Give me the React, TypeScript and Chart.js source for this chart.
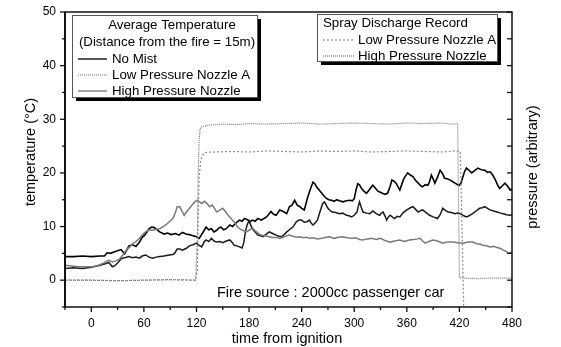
import React, { useEffect, useRef } from 'react';
import { Chart, registerables } from 'chart.js';
Chart.register(...registerables);

const FONT = '"Liberation Sans", Arial, Helvetica, sans-serif';

const xTickValues = [0, 60, 120, 180, 240, 300, 360, 420, 480];
const yTickValues = [0, 10, 20, 30, 40, 50];

// Average temperature: No Mist
const noMistT = [-30,-20,-10,0,10,15,18,22,28,34,38,43,47,51,55,58,61,66,69,72,78,83,87,91,96,100,104,108,112,116,120,123,127,131,134,137,140,143,146,148,151,154,158,161,163,166,169,172,175,178,181,184,187,190,194,197,200,203,205,208,211,213,215,219,223,226,229,232,235,238,240,243,247,250,253,255,257,260,263,266,268,271,274,277,280,283,287,291,295,298,300,302,304,306,308,311,314,317,321,324,327,331,335,338,341,343,346,348,352,356,358,361,364,367,370,373,376,378,381,384,386,388,390,392,395,398,401,403,406,409,412,415,418,420,422,424,426,428,431,434,437,441,445,449,452,455,458,461,464,466,469,472,475,478,480];
const noMistV = [4.4,4.4,4.5,4.4,4.5,4.5,5.1,5.0,5.4,5.7,4.9,6.4,6.6,6.3,7.1,8.0,8.4,9.6,9.9,9.8,9.0,8.6,8.8,8.5,8.7,8.4,8.9,8.6,8.5,8.3,8.1,7.8,8.8,9.9,9.4,9.6,9.0,9.3,9.8,9.9,9.4,9.6,10.3,10.0,10.3,10.8,11.2,11.0,11.5,11.3,10.9,11.2,11.0,11.5,11.2,11.5,11.8,12.4,12.8,12.3,12.1,12.6,13.1,12.8,12.4,13.7,14.0,14.9,14.0,13.7,13.4,13.1,15.5,17.0,18.3,18.0,17.4,16.8,16.2,15.6,15.3,15.0,14.9,14.7,15.0,14.8,14.6,14.8,14.9,14.8,15.2,16.8,18.0,17.8,17.2,16.6,16.2,16.8,17.7,17.2,16.6,16.3,16.0,16.2,17.5,18.7,18.4,18.0,16.8,18.7,19.3,20.0,19.6,19.3,18.6,18.1,17.6,17.4,17.8,17.7,18.4,19.6,18.9,18.1,19.2,20.5,19.8,19.0,18.9,18.7,18.4,18.1,17.8,17.7,18.2,19.3,20.3,20.9,20.5,20.0,20.4,20.9,20.6,20.5,20.1,20.2,19.6,18.7,17.6,17.1,17.6,18.1,17.5,16.8,17.0];

// Average temperature: Low Pressure Nozzle A
const lowAT = [-30,-20,-10,0,5,10,15,20,24,27,31,34,38,43,47,51,55,58,62,66,70,74,78,83,89,93,95,98,101,104,108,112,116,120,123,126,129,131,134,137,140,143,147,150,154,158,161,163,166,169,172,174,176,178,180,182,184,186,188,190,193,196,199,203,207,211,214,217,220,223,226,230,234,237,240,243,246,249,251,253,255,258,261,264,266,268,270,273,275,279,283,287,291,294,297,300,303,305,306,308,310,314,318,321,323,326,329,331,333,335,337,339,341,344,346,349,352,356,360,364,367,370,373,376,378,382,386,390,395,398,401,404,407,411,415,418,421,425,428,431,435,439,443,446,449,452,455,459,463,467,470,474,478,480];
const lowAV = [2.2,2.3,2.2,2.4,2.6,2.8,3.0,3.3,2.5,2.7,3.4,4.0,4.2,4.4,4.2,4.3,4.1,4.5,4.7,4.3,4.1,4.3,4.4,4.5,4.7,4.8,5.0,5.8,5.8,5.6,5.9,6.4,6.6,6.9,6.5,6.2,7.2,7.5,7.2,7.8,7.3,7.1,7.2,7.0,7.3,7.5,7.0,6.5,6.4,6.2,6.0,7.0,9.2,10.4,11.1,10.2,9.6,9.1,8.8,8.4,8.3,8.1,8.5,9.0,8.7,8.4,8.2,8.1,8.5,9.0,9.4,9.9,10.9,11.2,11.2,10.8,10.9,11.2,10.6,10.3,10.6,11.2,12.8,14.3,14.6,14.0,13.4,12.9,12.7,12.6,12.4,12.5,12.1,12.0,11.8,12.1,12.7,14.0,14.6,13.6,12.7,12.5,12.4,12.9,12.7,12.3,12.1,12.5,12.7,12.0,11.2,11.8,12.1,11.7,11.5,11.9,11.8,12.6,13.1,13.5,13.7,13.2,12.7,13.0,13.1,12.6,12.1,11.8,11.5,12.2,13.4,13.0,12.7,12.6,12.4,12.5,12.4,12.0,11.8,12.0,12.4,12.9,13.4,13.5,13.7,13.4,13.1,12.9,12.7,12.5,12.4,12.2,12.1,12.2];

// Average temperature: High Pressure Nozzle
const highT = [-30,-20,-14,-5,1,7,13,17,20,24,28,32,36,40,44,47,51,55,58,62,66,70,74,78,82,85,89,93,96,98,101,104,106,109,112,115,118,121,124,126,129,132,135,138,141,143,147,150,153,156,159,161,164,167,170,174,177,181,184,187,191,194,198,203,208,211,215,219,223,226,230,234,238,242,246,249,253,258,263,268,272,277,282,287,292,297,302,306,310,315,320,325,330,335,341,346,352,357,363,368,372,375,378,381,385,390,395,401,406,413,418,424,430,435,440,444,447,451,455,459,463,467,470,473,476,478,480];
const highV = [2.8,2.6,2.5,2.5,2.5,2.7,3.1,3.5,3.7,3.4,3.6,3.9,4.7,5.6,6.2,6.8,7.2,7.8,8.4,9.0,9.4,9.3,9.5,9.6,10.0,10.3,10.9,11.5,12.6,13.7,13.7,12.7,12.1,12.8,13.4,14.0,14.6,14.9,14.5,14.3,14.7,14.3,13.7,14.0,13.3,12.7,13.1,13.4,12.8,12.1,11.6,11.2,10.6,9.9,9.5,9.2,9.0,9.4,9.7,9.2,8.7,8.4,8.3,8.1,7.9,8.0,7.8,8.0,8.3,8.4,8.2,8.0,8.1,7.9,8.0,7.8,7.9,7.7,7.8,8.0,8.1,7.8,8.0,8.1,7.9,7.8,7.9,7.6,7.5,7.7,7.8,7.6,7.8,7.4,7.1,7.3,7.5,7.2,7.5,7.6,7.7,7.8,7.3,6.9,7.2,7.5,7.3,6.9,7.1,7.1,7.0,6.9,7.1,7.1,6.8,6.7,6.5,6.4,6.2,6.3,6.1,5.9,5.6,5.4,5.0,5.1,5.2];

// Spray discharge record (arbitrary pressure)
const sprayHighT = [-30,0,30,60,90,119,121,122,123,124,126,135,150,165,180,200,220,240,260,280,300,320,340,360,380,400,410,418,419,420,424,440,460,480];
const sprayHighV = [0,0,-0.1,0,0.1,0,8,20,26,28.2,28.6,28.9,29.1,29.0,29.2,29.1,29.2,29.3,29.1,29.2,29.3,29.2,29.1,29.3,29.2,29.3,29.1,29.2,15,0.5,0.4,0.3,0.4,0.4];
const sprayLowT = [-30,0,30,60,90,119,121,122,123,125,127,129,140,160,180,200,220,240,260,280,300,320,340,360,380,400,415,421,423,425];
const sprayLowV = [0,0,-0.1,0,0.1,0,2,12,19,22.5,23.3,23.8,23.9,24.0,23.9,24.1,24.0,23.9,24.1,24.0,24.1,23.9,24.0,24.1,24.0,23.9,24.1,24.0,10,-6];

const xMin = -30, xMax = 480, yMin = -5, yMax = 50;

function pts(t: number[], v: number[]) {
  return t.map((x, i) => ({ x, y: v[i] }));
}

function line(ctx: CanvasRenderingContext2D, x1: number, y1: number, x2: number, y2: number) {
  ctx.beginPath();
  ctx.moveTo(x1, y1);
  ctx.lineTo(x2, y2);
  ctx.stroke();
}

const decor = {
  id: 'decor',
  afterDraw(chart: any) {
    const ctx: CanvasRenderingContext2D = chart.ctx;
    const a = chart.chartArea;
    const xs = chart.scales.x;
    const ys = chart.scales.y;
    ctx.save();
    ctx.strokeStyle = '#111';
    ctx.lineWidth = 1.5;
    ctx.strokeRect(a.left, a.top, a.right - a.left, a.bottom - a.top);
    ctx.lineWidth = 2;
    line(ctx, a.left, a.top, a.left, a.bottom);
    ctx.lineWidth = 1.3;
    for (let v = yMin; v <= yMax; v += 5) {
      const py = ys.getPixelForValue(v);
      const major = v % 10 === 0;
      line(ctx, a.left - (major ? 5 : 3), py, a.left, py);
      line(ctx, a.right - 5, py, a.right, py);
    }
    for (let v = xMin; v <= xMax; v += 30) {
      const px = xs.getPixelForValue(v);
      const major = v % 60 === 0;
      line(ctx, px, a.bottom, px, a.bottom + (major ? 5 : 3));
    }

    // axis titles
    ctx.fillStyle = '#000';
    ctx.font = `14.5px ${FONT}`;
    ctx.textAlign = 'center';
    ctx.textBaseline = 'middle';
    ctx.fillText('time from ignition', 287, 339);
    ctx.save();
    ctx.translate(31, 152);
    ctx.rotate(-Math.PI / 2);
    ctx.fillText('temperature (\u00B0C)', 0, 0);
    ctx.restore();
    ctx.save();
    ctx.translate(533, 167);
    ctx.rotate(-Math.PI / 2);
    ctx.fillText('pressure (arbitrary)', 0, 0);
    ctx.restore();

    ctx.textAlign = 'left';
    ctx.fillText('Fire source : 2000cc passenger car', 217, 293);

    // legend boxes
    const box = (x: number, y: number, w: number, h: number) => {
      ctx.fillStyle = '#000';
      ctx.fillRect(x + 4, y + 4, w, h);
      ctx.fillStyle = '#fff';
      ctx.fillRect(x, y, w, h);
      ctx.strokeStyle = '#555';
      ctx.lineWidth = 1;
      ctx.setLineDash([]);
      ctx.strokeRect(x + 0.5, y + 0.5, w, h);
    };
    const sample = (x1: number, x2: number, y: number, color: string, dash: number[], w: number) => {
      ctx.strokeStyle = color;
      ctx.lineWidth = w;
      ctx.setLineDash(dash);
      line(ctx, x1, y, x2, y);
      ctx.setLineDash([]);
    };

    box(72, 15, 185, 82);
    ctx.fillStyle = '#000';
    ctx.font = `13.3px ${FONT}`;
    ctx.textAlign = 'center';
    ctx.fillText('Average Temperature', 172, 25);
    ctx.fillText('(Distance from the fire = 15m)', 167, 42);
    ctx.textAlign = 'left';
    sample(78, 107, 59, '#000', [], 1.3);
    ctx.fillStyle = '#000';
    ctx.fillText('No Mist', 112, 59);
    sample(78, 107, 75, '#888', [1, 1], 1.2);
    ctx.fillStyle = '#000';
    ctx.fillText('Low Pressure Nozzle A', 112, 75);
    sample(78, 107, 91, '#666', [], 1.2);
    ctx.fillStyle = '#000';
    ctx.fillText('High Pressure Nozzle', 112, 91);

    box(317, 14, 180, 47);
    ctx.fillStyle = '#000';
    ctx.fillText('Spray Discharge Record', 323, 23);
    sample(323, 355, 40, '#888', [2, 2], 1.2);
    ctx.fillStyle = '#000';
    ctx.fillText('Low Pressure Nozzle A', 358, 40);
    sample(323, 355, 56, '#777', [1, 1], 1.2);
    ctx.fillStyle = '#000';
    ctx.fillText('High Pressure Nozzle', 358, 56);
    ctx.restore();
  },
};

export default function App() {
  const ref = useRef<HTMLCanvasElement | null>(null);
  useEffect(() => {
    if (!ref.current) return;
    const chart = new Chart(ref.current, {
      type: 'line',
      data: {
        datasets: [
          { label: 'Spray Low Pressure Nozzle A', data: pts(sprayLowT, sprayLowV), borderColor: '#8c8c8c', borderWidth: 1.2, borderDash: [2, 2], pointRadius: 0, tension: 0 },
          { label: 'Spray High Pressure Nozzle', data: pts(sprayHighT, sprayHighV), borderColor: '#7a7a7a', borderWidth: 1.2, borderDash: [1, 1], pointRadius: 0, tension: 0 },
          { label: 'High Pressure Nozzle', data: pts(highT, highV), borderColor: '#7a7a7a', borderWidth: 1.5, pointRadius: 0, tension: 0 },
          { label: 'Low Pressure Nozzle A', data: pts(lowAT, lowAV), borderColor: '#1a1a1a', borderWidth: 1.5, pointRadius: 0, tension: 0 },
          { label: 'No Mist', data: pts(noMistT, noMistV), borderColor: '#000', borderWidth: 1.6, pointRadius: 0, tension: 0 },
        ],
      },
      options: {
        animation: false,
        responsive: false,
        maintainAspectRatio: false,
        layout: { padding: { top: 12, right: 49, bottom: 0, left: 0 } },
        plugins: { legend: { display: false }, tooltip: { enabled: false } },
        scales: {
          x: {
            type: 'linear',
            min: xMin,
            max: xMax,
            afterBuildTicks: (s: any) => { s.ticks = xTickValues.map((v) => ({ value: v })); },
            afterFit: (s: any) => { s.height = 40; s.paddingLeft = 0; s.paddingRight = 0; },
            grid: { display: false, drawTicks: false },
            border: { display: false },
            ticks: { color: '#000', font: { family: FONT, size: 12 }, padding: 9, maxRotation: 0, autoSkip: false },
          },
          y: {
            type: 'linear',
            min: yMin,
            max: yMax,
            afterBuildTicks: (s: any) => { s.ticks = yTickValues.map((v) => ({ value: v })); },
            afterFit: (s: any) => { s.width = 65; s.paddingTop = 0; s.paddingBottom = 0; },
            grid: { display: false, drawTicks: false },
            border: { display: false },
            ticks: { color: '#000', font: { family: FONT, size: 12 }, padding: 9 },
          },
        },
      },
      plugins: [decor],
    } as any);
    return () => chart.destroy();
  }, []);
  return (
    <div style={{ position: 'fixed', left: 0, top: 0, width: 561, height: 347, background: '#fff' }}>
      <canvas ref={ref} width={561} height={347} />
    </div>
  );
}
